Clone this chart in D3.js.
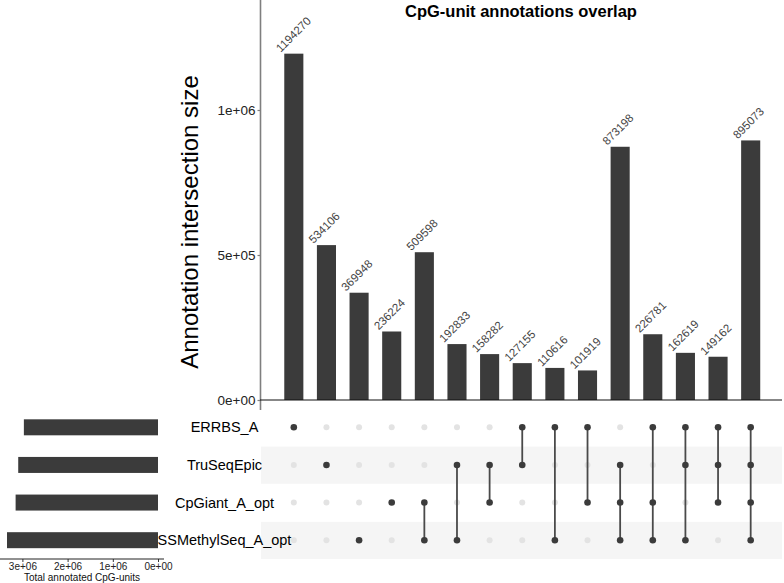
<!DOCTYPE html>
<html>
<head>
<meta charset="utf-8">
<script src="https://cdn.jsdelivr.net/npm/d3@7"></script>
<style>
  html, body { margin: 0; padding: 0; background: #fff; }
  svg { display: block; font-family: "Liberation Sans", Arial, Helvetica, sans-serif; }
</style>
</head>
<body>
<svg id="chart" width="784" height="583"></svg>
<script>
// ---- data ----
const sets = ["ERRBS_A", "TruSeqEpic", "CpGiant_A_opt", "SSMethylSeq_A_opt"];
const setSizes = [2967595, 3092428, 3150237, 3340666];
const intersectionSizes = [1194270, 534106, 369948, 236224, 509598, 192833, 158282, 127155, 110616, 101919, 873198, 226781, 162619, 149162, 895073];
const intersectionMembers = [
  ["ERRBS_A"],
  ["TruSeqEpic"],
  ["SSMethylSeq_A_opt"],
  ["CpGiant_A_opt"],
  ["CpGiant_A_opt", "SSMethylSeq_A_opt"],
  ["TruSeqEpic", "SSMethylSeq_A_opt"],
  ["TruSeqEpic", "CpGiant_A_opt"],
  ["ERRBS_A", "TruSeqEpic"],
  ["ERRBS_A", "SSMethylSeq_A_opt"],
  ["ERRBS_A", "CpGiant_A_opt"],
  ["TruSeqEpic", "CpGiant_A_opt", "SSMethylSeq_A_opt"],
  ["ERRBS_A", "CpGiant_A_opt", "SSMethylSeq_A_opt"],
  ["ERRBS_A", "TruSeqEpic", "SSMethylSeq_A_opt"],
  ["ERRBS_A", "TruSeqEpic", "CpGiant_A_opt"],
  ["ERRBS_A", "TruSeqEpic", "CpGiant_A_opt", "SSMethylSeq_A_opt"]
];
const yTickValues = [0, 500000, 1000000];
const yTickLabels = ["0e+00", "5e+05", "1e+06"];
const setTickValues = [0, 1000000, 2000000, 3000000];
const setTickLabels = ["0e+00", "1e+06", "2e+06", "3e+06"];
const title = "CpG-unit annotations overlap";
const yTitle = "Annotation intersection size";
const setTitle = "Total annotated CpG-units";

// ---- layout ----
const svg = d3.select("#chart");
const dark = "#3b3b3b";
const cols = intersectionSizes.map((d, i) => i);

const x = d3.scaleBand().domain(cols).range([277.5, 767]).padding(0);
const barW = x.bandwidth() * 0.585;
const cx = i => x(i) + x.bandwidth() / 2;

const y = d3.scaleLinear().domain([0, 1379300]).range([400, 0]);

const row = d3.scaleBand().domain(sets).range([408.5, 559]).padding(0);
const rowC = s => row(s) + row.bandwidth() / 2;

const sx = d3.scaleLinear().domain([0, 3495600]).range([158, 0]);

// ---- matrix background bands ----
svg.append("g").selectAll("rect")
  .data(sets.filter((s, i) => i % 2 === 1))
  .join("rect")
  .attr("x", 261).attr("width", 782 - 261)
  .attr("y", s => row(s) + 0.5).attr("height", row.bandwidth() - 0.5)
  .attr("fill", "#f5f5f5");

// ---- main bars ----
svg.append("g").selectAll("rect")
  .data(intersectionSizes)
  .join("rect")
  .attr("x", (d, i) => cx(i) - barW / 2)
  .attr("width", barW)
  .attr("y", d => y(d))
  .attr("height", d => y(0) - y(d))
  .attr("fill", dark);

// bar labels
svg.append("g").selectAll("text")
  .data(intersectionSizes)
  .join("text")
  .attr("transform", (d, i) => `translate(${cx(i) - 13},${y(d) - 1}) rotate(-45)`)
  .attr("font-size", 11.5)
  .attr("fill", "#444")
  .text(d => d);

// main axes
const yAxis = d3.axisLeft(y).tickValues(yTickValues)
  .tickFormat((d, i) => yTickLabels[i]).tickSize(3).tickPadding(2);
const gy = svg.append("g").attr("transform", "translate(260.5,0)").call(yAxis);
gy.select(".domain").remove();
gy.selectAll(".tick line").attr("stroke", "#7f7f7f").attr("stroke-width", 1.2);
gy.selectAll(".tick text").attr("font-size", 13.5).attr("fill", "#222").attr("font-family", null);
svg.append("line").attr("x1", 260.5).attr("x2", 260.5).attr("y1", 0).attr("y2", 410)
  .attr("stroke", "#7f7f7f").attr("stroke-width", 1.6);
svg.append("line").attr("x1", 260).attr("x2", 782).attr("y1", y(0)).attr("y2", y(0))
  .attr("stroke", "#111").attr("stroke-width", 1.2);

// titles
svg.append("text").attr("x", 521).attr("y", 17).attr("text-anchor", "middle")
  .attr("font-size", 16.5).attr("font-weight", "bold").attr("fill", "#000").text(title);
svg.append("text").attr("transform", "translate(198,222) rotate(-90)")
  .attr("text-anchor", "middle").attr("font-size", 24).attr("fill", "#000").text(yTitle);

// ---- matrix ----
const mg = svg.append("g");
// inactive dots first
cols.forEach(i => {
  const mem = intersectionMembers[i];
  sets.filter(s => !mem.includes(s)).forEach(s => {
    mg.append("circle").attr("cx", cx(i)).attr("cy", rowC(s))
      .attr("r", 3).attr("fill", "#e3e3e3");
  });
});
// connecting lines
cols.forEach(i => {
  const mem = intersectionMembers[i];
  if (mem.length > 1) {
    const ys = mem.map(rowC);
    mg.append("line").attr("x1", cx(i)).attr("x2", cx(i))
      .attr("y1", d3.min(ys)).attr("y2", d3.max(ys))
      .attr("stroke", "#4a4a4a").attr("stroke-width", 1.8);
  }
});
// active dots
cols.forEach(i => {
  intersectionMembers[i].forEach(s => {
    mg.append("circle").attr("cx", cx(i)).attr("cy", rowC(s))
      .attr("r", 3.3).attr("fill", dark);
  });
});

// set labels
svg.append("g").selectAll("text")
  .data(sets)
  .join("text")
  .attr("x", 224.5).attr("y", s => rowC(s) + 5)
  .attr("text-anchor", "middle").attr("font-size", 14.5).attr("fill", "#000")
  .text(s => s);

// ---- set size bars ----
svg.append("g").selectAll("rect")
  .data(setSizes)
  .join("rect")
  .attr("x", d => sx(d)).attr("width", d => sx(0) - sx(d))
  .attr("y", (d, i) => rowC(sets[i]) - 8).attr("height", 16)
  .attr("fill", dark);

const sAxis = d3.axisBottom(sx).tickValues(setTickValues)
  .tickFormat((d, i) => setTickLabels[i]).tickSize(3).tickPadding(1);
const gs = svg.append("g").attr("transform", "translate(0,559)").call(sAxis);
gs.select(".domain").remove();
gs.selectAll(".tick line").attr("stroke", "#333");
gs.selectAll(".tick text").attr("font-size", 10).attr("fill", "#222").attr("font-family", null);
svg.append("line").attr("x1", 0).attr("x2", 164).attr("y1", 559).attr("y2", 559)
  .attr("stroke", "#222").attr("stroke-width", 1);
svg.append("text").attr("x", 82).attr("y", 580.5).attr("text-anchor", "middle")
  .attr("font-size", 10).attr("fill", "#111").text(setTitle);
</script>
</body>
</html>
